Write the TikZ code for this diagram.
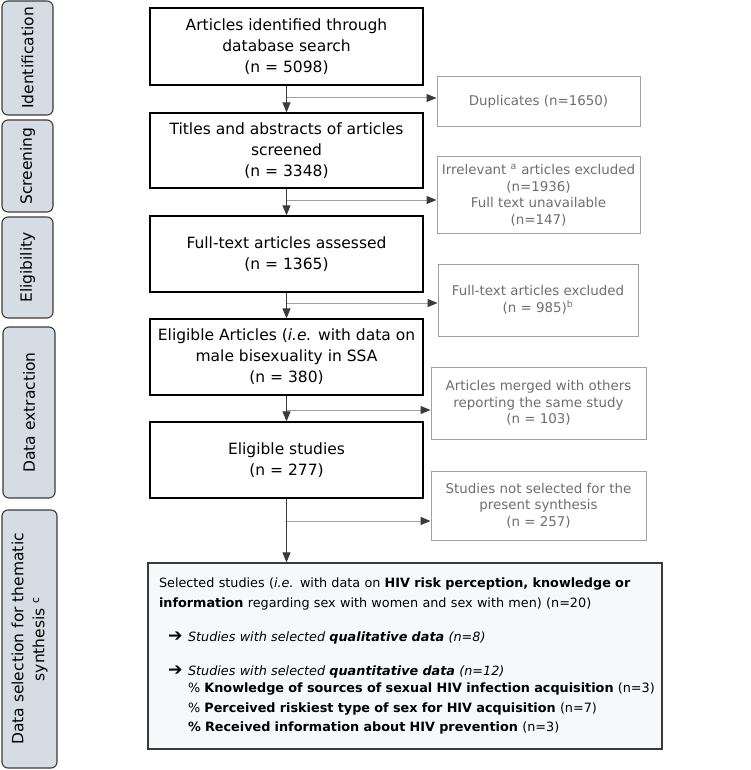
\documentclass[tikz,border=0pt]{standalone}
\usepackage{fontspec}
\setmainfont{DejaVu Sans}
\usetikzlibrary{arrows.meta}

\definecolor{stagefill}{HTML}{D6DCE4}
\definecolor{stageline}{HTML}{3A3A3A}
\definecolor{sidetext}{HTML}{6E6E6E}
\definecolor{sideline}{HTML}{A0A0A0}
\definecolor{synfill}{HTML}{F7F8FA}

\newcommand{\bularrow}{\makebox[20pt][l]{\raisebox{-0.5pt}{\scalebox{1.35}{\textbf{➔}}}}}

\tikzset{
  stage/.style={draw=stageline, line width=1.1pt, fill=stagefill, rounded corners=6pt,
    rotate=90, align=center, inner sep=0pt, font=\fontsize{15.5}{21}\selectfont},
  mainbox/.style={draw, line width=1.3pt, minimum width=273pt, minimum height=76pt,
    align=center, inner sep=0pt, font=\fontsize{15.5}{21}\selectfont},
  sidebox/.style={draw=sideline, line width=1pt, text=sidetext, align=center,
    inner sep=0pt, font=\fontsize{13.4}{16.5}\selectfont},
  mainarrow/.style={line width=1pt, draw=stageline, -{Triangle[length=10pt,width=8pt]}},
  sidearrow/.style={line width=1pt, draw=sideline,
    -{Triangle[length=10pt,width=8pt,color=stageline]}},
}

\begin{document}
\begin{tikzpicture}
  [x=1pt, y=-1pt]
  \useasboundingbox (0,0) rectangle (750,770);

  % stages
  \node[stage, minimum width=114pt, minimum height=51pt] (sid) at (27.5,58) {Identification};
  \node[stage, minimum width=92pt, minimum height=51pt] (ssc) at (27.5,166) {Screening};
  \node[stage, minimum width=101pt, minimum height=51pt] (sel) at (27.5,267.5) {Eligibility};
  \node[stage, minimum width=171pt, minimum height=52pt] (sex) at (29,412.5) {Data extraction};
  \node[stage, minimum width=258pt, minimum height=55pt] (sth) at (29.5,639)
    {Data selection for thematic\\synthesis \textsuperscript{c}};

  % main flow
  \node[mainbox, minimum height=77pt] (art) at (286.5,46.5)
    {Articles identified through\\database search\\(n = 5098)};
  \node[mainbox, minimum height=75pt] (tit) at (286.5,150.5)
    {Titles and abstracts of articles\\screened\\(n = 3348)};
  \node[mainbox] (full) at (286.5,254) {Full-text articles assessed\\(n = 1365)};
  \node[mainbox] (elig) at (286.5,357)
    {Eligible Articles (\textit{i.e.} with data on\\male bisexuality in SSA\\(n = 380)};
  \node[mainbox] (stud) at (286.5,460) {Eligible studies\\(n = 277)};
  \node[draw=stageline, line width=1.2pt, fill=synfill, minimum width=514pt,
    minimum height=186pt, text width=492pt, align=left, inner sep=0pt,
    font=\fontsize{12.8}{19.5}\selectfont] (syn) at (405,656)
    {\makebox[505pt][l]{Selected studies (\textit{i.e.} with data on \textbf{HIV risk perception, knowledge or}}\\
     \textbf{information} regarding sex with women and sex with men) (n=20)\\[14.5pt]
     \hspace*{9pt}\bularrow\textit{Studies with selected \textbf{qualitative data} (n=8)}\\[14.5pt]
     \hspace*{9pt}\bularrow\textit{Studies with selected \textbf{quantitative data} (n=12)}\\[-2pt]
     \makebox[505pt][l]{\hspace*{29pt}\% \textbf{Knowledge of sources of sexual HIV infection acquisition} (n=3)}\\
     \hspace*{29pt}\% \textbf{Perceived riskiest type of sex for HIV acquisition} (n=7)\\
     \hspace*{29pt}\textbf{\% Received information about HIV prevention} (n=3)};

  % excluded
  \node[sidebox, minimum width=203pt, minimum height=50pt] (dup) at (538.5,102)
    {Duplicates (n=1650)};
  \node[sidebox, minimum width=203pt, minimum height=76pt] (irr) at (538.5,195)
    {Irrelevant \textsuperscript{a} articles excluded\\(n=1936)\\Full text unavailable\\(n=147)};
  \node[sidebox, minimum width=200pt, minimum height=72pt] (ftx) at (538,300)
    {Full-text articles excluded\\(n = 985)\textsuperscript{b}};
  \node[sidebox, minimum width=215pt, minimum height=72pt] (mer) at (538.5,403)
    {Articles merged with others\\reporting the same study\\(n = 103)};
  \node[sidebox, minimum width=215pt, minimum height=69pt] (nsl) at (538.5,505.5)
    {Studies not selected for the\\present synthesis\\(n = 257)};

  \foreach \from/\to in {art/tit,tit/full,full/elig,elig/stud,stud/syn}
  \draw[mainarrow] (\from.south) -- (\from.south |- \to.north);

  \coordinate (b1) at (286.5,98);
  \coordinate (b2) at (286.5,200);
  \coordinate (b3) at (286.5,303);
  \coordinate (b4) at (286.5,410);
  \coordinate (b5) at (286.5,521);
  \foreach \from/\to in {b1/dup,b2/irr,b3/ftx,b4/mer,b5/nsl}
  \draw[sidearrow] (\from) -- (\from -| \to.west);

\end{tikzpicture}
\end{document}
